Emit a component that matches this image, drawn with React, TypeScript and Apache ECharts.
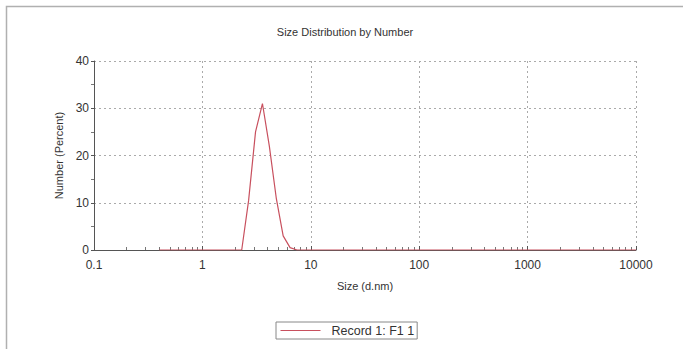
import React, { useEffect, useRef } from "react";
import * as echarts from "echarts";

const sizes = [0.4, 1, 2.305, 2.669, 3.091, 3.58, 4.145, 4.801, 5.56, 6.439, 7.456, 100, 10000];
const numbers = [0, 0, 0, 10.5, 25, 31, 22, 11, 3, 0.5, 0, 0, 0];
const xMajor = [0.1, 1, 10, 100, 1000, 10000];
const xMinor = [
  0.2, 0.3, 0.4, 0.5, 0.6, 0.7, 0.8, 0.9,
  2, 3, 4, 5, 6, 7, 8, 9,
  20, 30, 40, 50, 60, 70, 80, 90,
  200, 300, 400, 500, 600, 700, 800, 900,
  2000, 3000, 4000, 5000, 6000, 7000, 8000, 9000,
];
const seriesName = "Record 1: F1 1";

const FONT = "'Liberation Sans', Arial, sans-serif";

export default function App() {
  const ref = useRef<HTMLDivElement>(null);
  useEffect(() => {
    if (!ref.current) return;
    const chart = echarts.init(ref.current, null, { renderer: "svg" });
    chart.setOption({
      animation: false,
      backgroundColor: "#ffffff",
      textStyle: { fontFamily: FONT },
      title: {
        text: "Size Distribution by Number",
        left: 340,
        textAlign: "center",
        top: 21,
        textStyle: { fontSize: 11, fontWeight: "normal", color: "#333", fontFamily: FONT },
      },
      graphic: [
        {
          type: "rect",
          shape: { x: 6.5, y: 6.5, width: 720, height: 400 },
          style: { fill: "none", stroke: "#b0b0b0", lineWidth: 1.5 },
          silent: true,
        },
      ],
      legend: {
        left: 276,
        top: 322,
        orient: "horizontal",
        padding: [2, 3, 2, 4],
        borderColor: "#888",
        borderWidth: 1,
        itemWidth: 40,
        itemHeight: 12,
        itemGap: 6,
        itemStyle: { opacity: 0 },
        lineStyle: { width: 1 },
        textStyle: { fontSize: 12.5, color: "#333", fontFamily: FONT, padding: [0, 0, 0, 6] },
        data: [seriesName],
      },
      grid: { left: 94, right: 47, top: 61, bottom: 99, containLabel: false },
      xAxis: [
        {
          type: "log",
          logBase: 10,
          min: 0.1,
          max: 10000,
          name: "Size (d.nm)",
          nameLocation: "middle",
          nameGap: 30,
          nameTextStyle: { fontSize: 11, color: "#333", fontFamily: FONT },
          axisLine: { show: true, lineStyle: { color: "#555", width: 1 } },
          axisTick: { show: true, inside: true, length: 4, lineStyle: { color: "#555" } },
          axisLabel: {
            color: "#333",
            fontSize: 12,
            margin: 9,
            fontFamily: FONT,
            customValues: xMajor,
            formatter: (v: number) => String(v),
          },
          splitLine: { show: true, lineStyle: { color: "#aaa", type: [2, 3], width: 1 } },
        },
        {
          type: "log",
          logBase: 10,
          min: 0.1,
          max: 10000,
          position: "bottom",
          axisLine: { show: false },
          axisLabel: { show: false },
          splitLine: { show: false },
          axisTick: { show: true, inside: true, length: 3, customValues: xMinor, lineStyle: { color: "#777" } },
        },
      ],
      yAxis: {
        type: "value",
        min: 0,
        max: 40,
        interval: 10,
        name: "Number (Percent)",
        nameLocation: "middle",
        nameGap: 28,
        nameTextStyle: { fontSize: 11, color: "#333", fontFamily: FONT },
        axisLine: { show: true, lineStyle: { color: "#555", width: 1 } },
        axisTick: { show: true, inside: false, length: 3, lineStyle: { color: "#555" } },
        minorTick: { show: true, splitNumber: 2, length: 3, lineStyle: { color: "#777" } },
        axisLabel: { color: "#333", fontSize: 12, margin: 5, fontFamily: FONT },
        splitLine: { show: true, lineStyle: { color: "#aaa", type: [2, 3], width: 1 } },
      },
      series: [
        {
          name: seriesName,
          type: "line",
          xAxisIndex: 0,
          symbol: "none",
          showSymbol: false,
          lineStyle: { color: "#c8505e", width: 1.2 },
          itemStyle: { color: "#c8505e" },
          data: sizes.map((s, i) => [s, numbers[i]]),
        },
      ],
    });
    return () => chart.dispose();
  }, []);
  return (
    <div
      ref={ref}
      style={{ position: "absolute", left: 0, top: 0, width: 683, height: 349 }}
    />
  );
}
